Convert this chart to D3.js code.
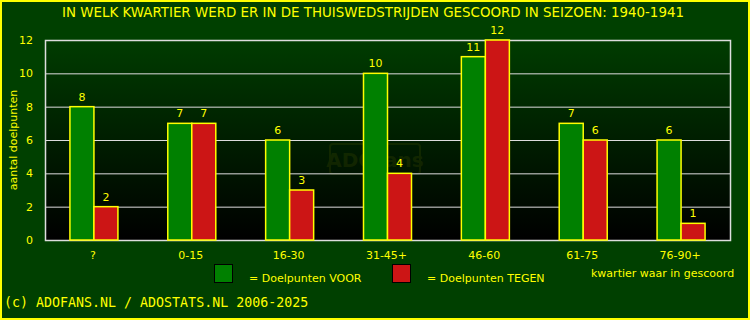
<!DOCTYPE html>
<html>
<head>
<meta charset="utf-8">
<script src="https://cdn.jsdelivr.net/npm/d3@7"></script>
<style>
 body { margin: 0; background: #004000; }
 svg { display: block; }
 text { font-family: "DejaVu Sans", sans-serif; fill: #ffff00; }
</style>
</head>
<body>
<svg width="750" height="320"></svg>
<script>
// data
const categories = ["?", "0-15", "16-30", "31-45+", "46-60", "61-75", "76-90+"]
const voor = [8, 7, 6, 10, 11, 7, 6]
const tegen = [2, 7, 3, 4, 12, 6, 1]
const yTicks = [0, 2, 4, 6, 8, 10, 12]

const width = 750, height = 320
const m = {left: 45, right: 20, top: 40, bottom: 80}
const pw = width - m.left - m.right, ph = height - m.top - m.bottom

const svg = d3.select("svg")

// background + yellow frame
svg.append("rect").attr("x", 1).attr("y", 1).attr("width", width - 2).attr("height", height - 2)
     .attr("fill", "#004000").attr("stroke", "#ffff00").attr("stroke-width", 2)

const defs = svg.append("defs")
const grad = defs.append("linearGradient").attr("id", "plotbg").attr("x1", 0).attr("y1", 0).attr("x2", 0).attr("y2", 1)
grad.append("stop").attr("offset", "0%").attr("stop-color", "#003c00")
grad.append("stop").attr("offset", "100%").attr("stop-color", "#000000")

// title
svg.append("text").attr("x", 373).attr("y", 17).attr("text-anchor", "middle")
     .attr("font-size", 13.4).text("IN WELK KWARTIER WERD ER IN DE THUISWEDSTRIJDEN GESCOORD IN SEIZOEN: 1940-1941")

const x = d3.scaleBand().domain(categories).range([0, pw])
const y = d3.scaleLinear().domain([0, 12]).range([ph, 0])

const g = svg.append("g").attr("transform", `translate(${m.left},${m.top})`)

g.append("rect").attr("width", pw).attr("height", ph).attr("fill", "url(#plotbg)")

// watermark (very faint)
const wm = g.append("g").attr("opacity", 0.12)
wm.append("rect").attr("x", 285).attr("y", 104).attr("width", 90).attr("height", 30).attr("rx", 3)
     .attr("fill", "none").attr("stroke", "#8a8a00").attr("stroke-width", 2)
wm.append("text").attr("x", 330).attr("y", 127).attr("text-anchor", "middle")
     .attr("font-size", 20).attr("font-weight", "bold").style("fill", "#8a8a00").text("ADOfans")

// gridlines
g.selectAll(".grid").data(yTicks).enter().append("line")
     .attr("x1", 0).attr("x2", pw)
     .attr("y1", d => y(d) + 0.5).attr("y2", d => y(d) + 0.5)
     .attr("stroke", "#dddddd").attr("stroke-width", 1)

// frame of plot
g.append("rect").attr("x", 0.5).attr("y", 0.5).attr("width", pw).attr("height", ph)
     .attr("fill", "none").attr("stroke", "#dddddd").attr("stroke-width", 1.5)

// y tick labels
g.selectAll(".ytick").data(yTicks).enter().append("text")
     .attr("x", -12).attr("y", d => y(d) + 4).attr("text-anchor", "end")
     .attr("font-size", 11).text(d => d)

svg.append("text").attr("transform", "translate(17,140) rotate(-90)").attr("text-anchor", "middle")
     .attr("font-size", 11).text("aantal doelpunten")

const bw = 24
const series = [
     {vals: voor, color: "#008000", off: -bw},
     {vals: tegen, color: "#cc1515", off: 0}
]

series.forEach(s => {
     g.selectAll(null).data(categories).enter().append("rect")
          .attr("x", (c) => x(c) + x.bandwidth() / 2 + s.off)
          .attr("y", (c, i) => y(s.vals[i]))
          .attr("width", bw)
          .attr("height", (c, i) => ph - y(s.vals[i]))
          .attr("fill", s.color).attr("stroke", "#ffff00").attr("stroke-width", 1.5)
     g.selectAll(null).data(categories).enter().append("text")
          .attr("x", (c) => x(c) + x.bandwidth() / 2 + s.off + bw / 2)
          .attr("y", (c, i) => y(s.vals[i]) - 6)
          .attr("text-anchor", "middle").attr("font-size", 11)
          .text((c, i) => s.vals[i])
})

// category labels
g.selectAll(".xlab").data(categories).enter().append("text")
     .attr("x", c => x(c) + x.bandwidth() / 2 - 1).attr("y", ph + 19)
     .attr("text-anchor", "middle").attr("font-size", 11).text(c => c)

// legend
svg.append("rect").attr("x", 214.5).attr("y", 264.5).attr("width", 18).attr("height", 18)
     .attr("fill", "#008000").attr("stroke", "#000").attr("stroke-width", 1)
svg.append("text").attr("x", 249).attr("y", 282).attr("font-size", 11).text("= Doelpunten VOOR")
svg.append("rect").attr("x", 392.5).attr("y", 264.5).attr("width", 18).attr("height", 18)
     .attr("fill", "#cc1515").attr("stroke", "#000").attr("stroke-width", 1)
svg.append("text").attr("x", 427).attr("y", 282).attr("font-size", 11).text("= Doelpunten TEGEN")
svg.append("text").attr("x", 591).attr("y", 277).attr("font-size", 11).text("kwartier waar in gescoord")

svg.append("text").attr("x", 4).attr("y", 307).attr("font-size", 13.3)
     .style("font-family", "'DejaVu Sans Mono', monospace").text("(c) ADOFANS.NL / ADOSTATS.NL 2006-2025")
</script>
</body>
</html>
